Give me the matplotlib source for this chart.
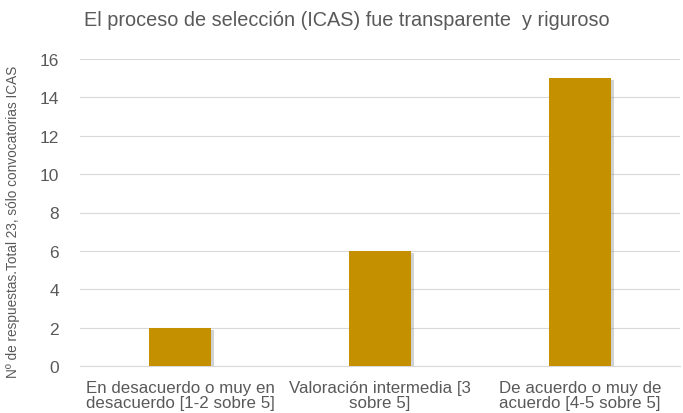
import matplotlib
matplotlib.use("Agg")
import matplotlib.pyplot as plt
import matplotlib.patheffects as pe
import numpy as np

categories = ["En desacuerdo o muy en\ndesacuerdo [1-2 sobre 5]",
              "Valoración intermedia [3\nsobre 5]",
              "De acuerdo o muy de\nacuerdo [4-5 sobre 5]"]
counts = [2, 6, 15]

plt.rcParams["font.family"] = ["Liberation Sans", "DejaVu Sans"]
txt = "#595959"

fig = plt.figure(figsize=(6.83, 4.14), dpi=100)
ax = fig.add_axes([80/683, 47/414, 600/683, 307/414])

x = np.arange(len(categories))
bars = ax.bar(x, counts, width=0.31, color="#C49000", zorder=3)
for b in bars:
    b.set_path_effects([pe.SimplePatchShadow(offset=(2.5, -1.5), shadow_rgbFace="#808080", alpha=0.35), pe.Normal()])

ax.set_xlim(-0.5, 2.5)
ax.set_ylim(0, 16)
ax.set_yticks(range(0, 17, 2))
ax.set_xticks(x)
ax.set_xticklabels(categories, fontsize=12.2, color=txt, linespacing=1.05)
ax.tick_params(axis="y", labelsize=12.5, labelcolor=txt, length=0, pad=15)
ax.tick_params(axis="x", length=0, pad=10)
ax.grid(axis="y", color="#D9D9D9", linewidth=0.8, zorder=0)
for s in ["top", "right", "left"]:
    ax.spines[s].set_visible(False)
ax.spines["bottom"].set_color("#D9D9D9")

fig.text(13/683, 1 - 222/414, "Nº de respuestas.Total 23, sólo convocatorias ICAS",
         rotation=90, ha="center", va="center", fontsize=9.8, color=txt)
fig.text(347/683, 1 - 21/414, "El proceso de selección (ICAS) fue transparente  y riguroso",
         ha="center", va="center", fontsize=14.3, color=txt)

fig.savefig("out.png", dpi=100)
